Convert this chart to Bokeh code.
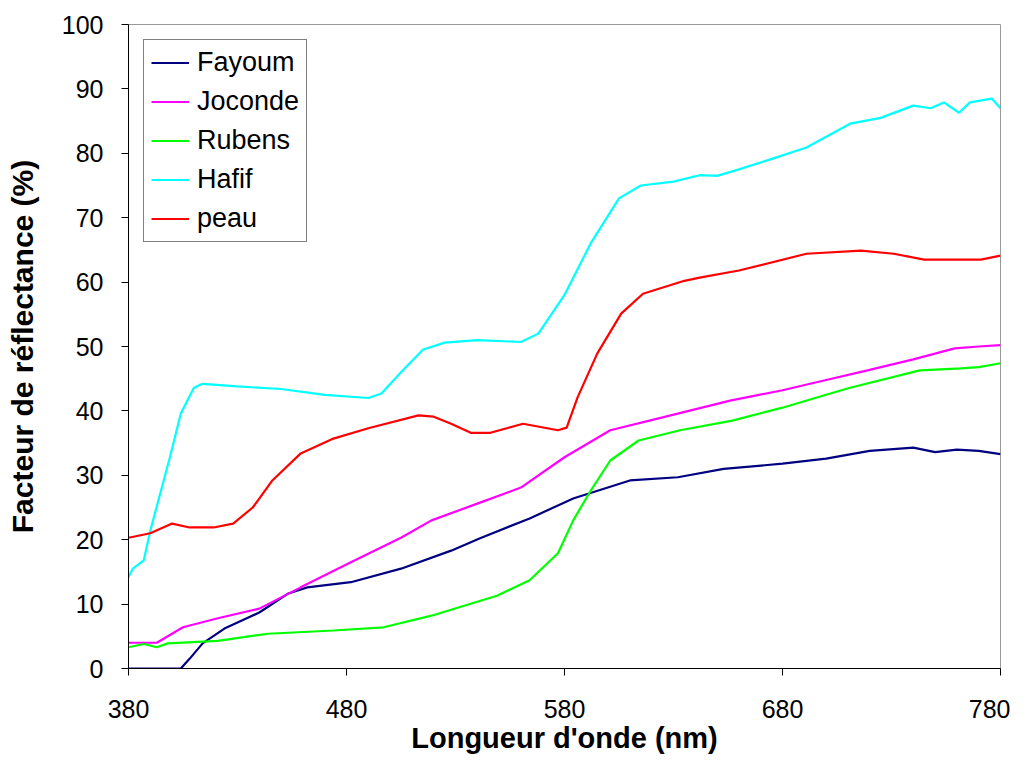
from bokeh.plotting import figure
from bokeh.models import Range1d, Legend, LegendItem, FixedTicker
from bokeh.embed import file_html
from bokeh.resources import INLINE

# --- data ---
fayoum_x = [380, 404, 408, 414, 424, 440, 453, 462, 482, 505, 528, 541, 564, 584, 610, 632, 653, 680, 700, 720, 740, 750, 760, 770, 780]
fayoum_y = [0, 0, 1.5, 3.9, 6.2, 8.7, 11.6, 12.6, 13.4, 15.5, 18.3, 20.2, 23.3, 26.4, 29.2, 29.7, 31.0, 31.8, 32.6, 33.8, 34.3, 33.6, 34.0, 33.8, 33.3]

joconde_x = [380, 393, 405, 421, 440, 459, 482, 505, 519, 540, 560, 580, 601, 625, 656, 680, 700, 719, 740, 759, 770, 780]
joconde_y = [4.0, 4.0, 6.4, 7.8, 9.3, 12.6, 16.5, 20.3, 23.0, 25.6, 28.1, 32.8, 37.0, 39.0, 41.6, 43.2, 44.8, 46.3, 48.0, 49.7, 50.0, 50.2]

rubens_x = [380, 387, 393, 398, 421, 444, 474, 497, 519, 549, 564, 577, 584, 592, 601, 614, 633, 657, 680, 700, 711, 743, 762, 770, 780]
rubens_y = [3.3, 3.8, 3.3, 3.9, 4.3, 5.4, 5.9, 6.4, 8.2, 11.3, 13.7, 17.9, 23.0, 27.6, 32.3, 35.4, 37.0, 38.5, 40.5, 42.5, 43.6, 46.3, 46.6, 46.8, 47.4]

hafif_x = [380, 382, 387, 390, 399, 404, 410, 414, 430, 450, 470, 490, 496, 505, 515, 525, 540, 560, 568, 580, 592, 605, 615, 630, 642, 650, 660, 673, 691, 711, 725, 740, 748, 754, 761, 766, 776, 780]
hafif_y = [14.2, 15.5, 16.8, 21.4, 32.8, 39.6, 43.6, 44.2, 43.8, 43.4, 42.5, 42.0, 42.7, 46.0, 49.5, 50.6, 51.0, 50.7, 52.0, 58.0, 66.0, 73.0, 75.0, 75.6, 76.6, 76.5, 77.5, 78.9, 80.9, 84.6, 85.5, 87.4, 87.0, 87.9, 86.3, 87.9, 88.5, 87.0]

peau_x = [380, 390, 400, 408, 419, 428, 437, 446, 459, 474, 490, 513, 520, 528, 537, 546, 561, 577, 581, 586, 595, 606, 616, 635, 642, 660, 691, 716, 731, 745, 771, 780]
peau_y = [20.3, 21.0, 22.5, 21.9, 21.9, 22.5, 25.0, 29.2, 33.4, 35.7, 37.3, 39.3, 39.1, 38.0, 36.6, 36.6, 38.0, 37.0, 37.4, 42.1, 48.9, 55.1, 58.2, 60.2, 60.7, 61.8, 64.4, 64.9, 64.4, 63.5, 63.5, 64.1]

series_names = ["Fayoum", "Joconde", "Rubens", "Hafif", "peau"]
series_x = [fayoum_x, joconde_x, rubens_x, hafif_x, peau_x]
series_y = [fayoum_y, joconde_y, rubens_y, hafif_y, peau_y]
series_colors = ["#000080", "#FF00FF", "#00FF00", "#00FFFF", "#FF0000"]

x_ticks = [380, 480, 580, 680, 780]
y_ticks = [0, 10, 20, 30, 40, 50, 60, 70, 80, 90, 100]

FONT = "Liberation Sans"

p = figure(width=1010, height=760, output_backend="svg", toolbar_location=None,
           x_range=Range1d(380, 780), y_range=Range1d(0, 100),
           min_border_left=128, min_border_right=10, min_border_top=24, min_border_bottom=92)

p.xgrid.visible = False
p.ygrid.visible = False
p.outline_line_color = "#999999"
p.outline_line_width = 1
p.background_fill_color = "white"
p.border_fill_color = "white"

items = []
for name, xs, ys, c in zip(series_names, series_x, series_y, series_colors):
    r = p.line(xs, ys, line_color=c, line_width=2.2)
    items.append(LegendItem(label=name, renderers=[r]))

for ax in (p.xaxis[0], p.yaxis[0]):
    ax.axis_line_color = "black"
    ax.axis_line_width = 1
    ax.major_tick_line_color = "black"
    ax.major_tick_out = 7
    ax.major_tick_in = 0
    ax.minor_tick_line_color = None
    ax.major_label_text_font = FONT
    ax.major_label_text_font_size = "25px"
    ax.major_label_text_color = "black"
    ax.axis_label_text_font = FONT
    ax.axis_label_text_font_style = "bold"
    ax.axis_label_text_color = "black"

p.xaxis.ticker = FixedTicker(ticks=x_ticks)
p.yaxis.ticker = FixedTicker(ticks=y_ticks)
p.xaxis.axis_label = "Longueur d'onde (nm)"
p.yaxis.axis_label = "Facteur de réflectance (%)"
p.xaxis.axis_label_text_font_size = "29px"
p.yaxis.axis_label_text_font_size = "30px"
p.xaxis.major_label_standoff = 24
p.xaxis.axis_label_standoff = 1
p.yaxis.major_label_standoff = 18
p.yaxis.axis_label_standoff = 20

legend = Legend(items=items, location="top_left")
legend.margin = 15
legend.padding = 7
legend.spacing = 8
legend.label_height = 29
legend.glyph_height = 29
legend.glyph_width = 38
legend.label_standoff = 8
legend.label_text_font = FONT
legend.label_text_font_size = "27px"
legend.label_text_color = "black"
legend.border_line_color = "black"
legend.border_line_width = 1
legend.background_fill_color = "white"
legend.background_fill_alpha = 1
p.add_layout(legend)

open("out.html", "w").write(file_html(p, INLINE))
